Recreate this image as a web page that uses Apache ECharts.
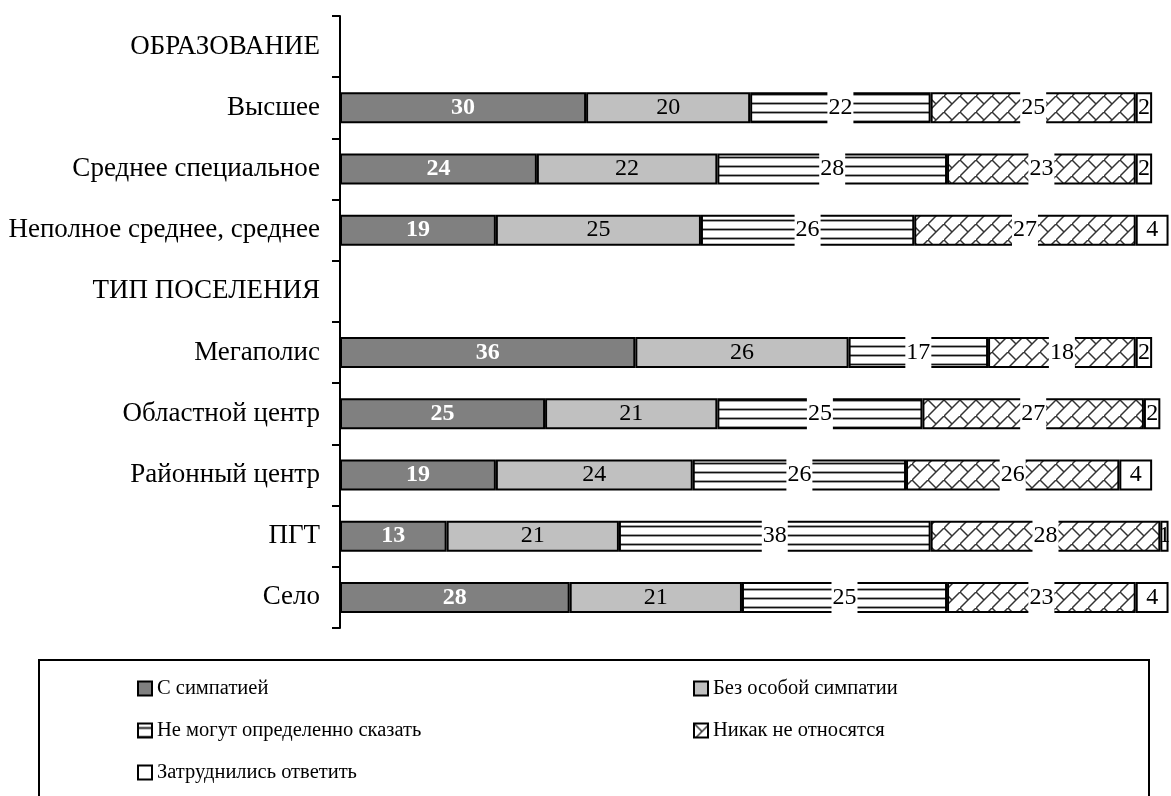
<!DOCTYPE html>
<html>
<head>
<meta charset="utf-8">
<script src="https://cdn.jsdelivr.net/npm/echarts@6/dist/echarts.min.js"></script>
<style>
  html, body { margin: 0; padding: 0; background: #fff; }
  #chart { width: 1171px; height: 796px; }
</style>
</head>
<body>
<div id="chart"></div>
<script>
// Attitude by education and settlement type, % of respondents
const categories = [
  'ОБРАЗОВАНИЕ', 'Высшее', 'Среднее специальное', 'Неполное среднее, среднее',
  'ТИП ПОСЕЛЕНИЯ', 'Мегаполис', 'Областной центр', 'Районный центр', 'ПГТ', 'Село'
];
const seriesNames = [
  'С симпатией', 'Без особой симпатии', 'Не могут определенно сказать',
  'Никак не относятся', 'Затруднились ответить'
];
const withSympathy   = ['-', 30, 24, 19, '-', 36, 25, 19, 13, 28];
const noSympathy     = ['-', 20, 22, 25, '-', 26, 21, 24, 21, 21];
const cannotSay      = ['-', 22, 28, 26, '-', 17, 25, 26, 38, 25];
const indifferent    = ['-', 25, 23, 27, '-', 18, 27, 26, 28, 23];
const hardToAnswer   = ['-', 2, 2, 4, '-', 2, 2, 4, 1, 4];

const FONT = "'Liberation Serif', 'Times New Roman', serif";

// Horizontal-stripe fill
function stripeTile() {
  const c = document.createElement('canvas');
  c.width = 8; c.height = 9;
  const g = c.getContext('2d');
  g.fillStyle = '#fff'; g.fillRect(0, 0, 8, 9);
  g.fillStyle = '#a0a0a0'; g.fillRect(0, 3, 8, 1); g.fillRect(0, 5, 8, 1);
  g.fillStyle = '#111'; g.fillRect(0, 4, 8, 1);
  return c;
}
// Diagonal-brick fill
function brickTile() {
  const s = 16;
  const c = document.createElement('canvas');
  c.width = s; c.height = s;
  const g = c.getContext('2d');
  g.fillStyle = '#fff'; g.fillRect(0, 0, s, s);
  g.strokeStyle = '#333'; g.lineWidth = 1.5; g.lineCap = 'square';
  g.beginPath();
  g.moveTo(-2, s + 2); g.lineTo(s + 2, -2);
  g.moveTo(0, 0); g.lineTo(s / 2, s / 2);
  g.stroke();
  return c;
}

const fills = [
  '#808080',
  '#c0c0c0',
  { image: stripeTile(), repeat: 'repeat' },
  { image: brickTile(), repeat: 'repeat' },
  '#ffffff'
];
const values = [withSympathy, noSympathy, cannotSay, indifferent, hardToAnswer];

const labelStyles = [
  { color: '#fff', fontWeight: 'bold' },
  { color: '#000' },
  { color: '#000', backgroundColor: '#fff', padding: [8, 1] },
  { color: '#000', backgroundColor: '#fff', padding: [8, 1] },
  { color: '#000' }
];

const series = seriesNames.map((name, i) => ({
  name,
  type: 'bar',
  stack: 'total',
  barWidth: 31,
  data: values[i],
  itemStyle: { color: fills[i], borderColor: '#000', borderWidth: 2 },
  label: Object.assign({
    show: true,
    position: 'inside',
    fontFamily: FONT,
    fontSize: 24
  }, labelStyles[i]),
  emphasis: { disabled: true }
}));

const legendText = { fontFamily: FONT, fontSize: 20.5, color: '#000' };

const chart = echarts.init(document.getElementById('chart'), null, { renderer: 'canvas' });
chart.setOption({
  animation: false,
  backgroundColor: '#fff',
  grid: { left: 340, top: 16, height: 612, width: 831, outerBoundsMode: 'none' },
  xAxis: {
    type: 'value', min: 0, max: 101.3,
    axisLine: { show: false }, axisTick: { show: false },
    axisLabel: { show: false }, splitLine: { show: false }
  },
  yAxis: {
    type: 'category',
    inverse: true,
    data: categories,
    axisLine: { show: true, lineStyle: { color: '#000', width: 2 } },
    axisTick: { show: true, inside: false, length: 8, lineStyle: { color: '#000', width: 2 } },
    axisLabel: { fontFamily: FONT, fontSize: 27, color: '#000', margin: 20 }
  },
  legend: [
    {
      orient: 'vertical', left: 132, top: 673,
      itemWidth: 14, itemHeight: 14, itemGap: 21, icon: 'rect',
      data: [seriesNames[0], seriesNames[2], seriesNames[4]],
      textStyle: legendText, selectedMode: false
    },
    {
      orient: 'vertical', left: 688, top: 673,
      itemWidth: 14, itemHeight: 14, itemGap: 21, icon: 'rect',
      data: [seriesNames[1], seriesNames[3]],
      textStyle: legendText, selectedMode: false
    }
  ],
  graphic: [{
    type: 'rect',
    shape: { x: 39, y: 660, width: 1110, height: 200 },
    style: { fill: 'none', stroke: '#000', lineWidth: 2 },
    silent: true
  }],
  series
});
</script>
</body>
</html>
